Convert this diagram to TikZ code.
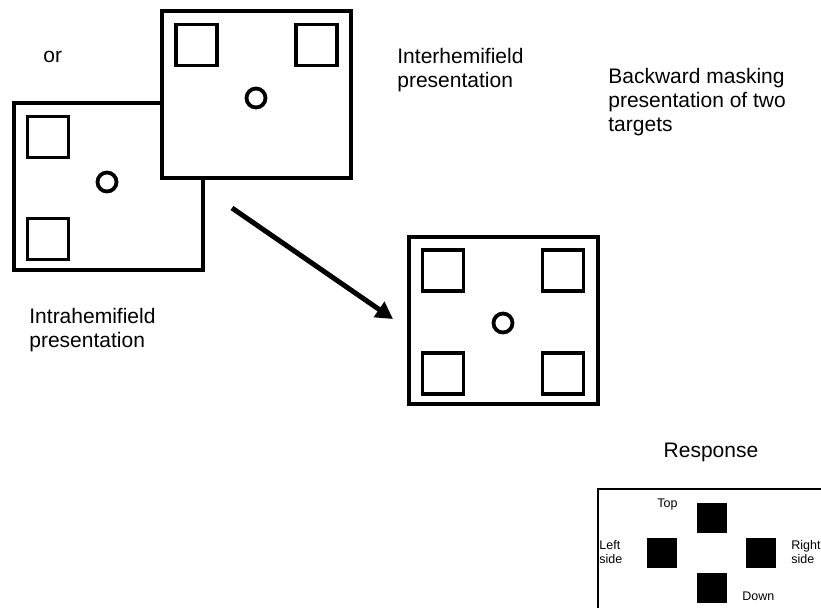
\documentclass[tikz,border=0pt]{standalone}
\usepackage{fontspec}
\setmainfont{Liberation Sans}
\usetikzlibrary{arrows.meta,positioning}
\tikzset{>={Triangle[length=8.5pt,width=9pt]}}
\tikzstyle{frame}=[rectangle,draw,line width=2pt,fill=white,
  minimum width=94.5pt,minimum height=83.5pt,inner sep=0pt]
\tikzstyle{target}=[rectangle,draw,line width=1.6pt,
  minimum size=20.5pt,inner sep=0pt]
\tikzstyle{fixdot}=[circle,draw,line width=1.9pt,minimum size=9.5pt,inner sep=0pt]
\tikzstyle{key}=[rectangle,fill=black,minimum size=15pt,inner sep=0pt]
\tikzstyle{txt}=[inner sep=0pt,anchor=base west,align=left,
  font=\fontsize{10.5}{12}\selectfont]
\tikzstyle{smalltxt}=[txt,font=\fontsize{6.25}{7}\selectfont]

\begin{document}
\begin{tikzpicture}[x=0.5pt,y=-0.5pt]
  \useasboundingbox (0,0) rectangle (821,607);
  \clip (0,0) rectangle (821,607);

  % intrahemifield display
  \path (108,186.5) node (intra) [frame] {};
  \path (48,137) node (intraT) [target] {};
  \path (48,239) node (intraB) [target] {};
  \path (107,182) node (intraF) [fixdot] {};

  % interhemifield display (lies on top)
  \path (256.5,94.5) node (inter) [frame] {};
  \path (196.5,45) node (interL) [target] {};
  \path (316.5,45) node (interR) [target] {};
  \path (256,98) node (interF) [fixdot] {};

  % mask display
  \path (503.5,320) node (mask) [frame] {};
  \path (443,270.5) node (maskTL) [target] {};
  \path (563,270.5) node (maskTR) [target] {};
  \path (443,373.5) node (maskBL) [target] {};
  \path (563,373.5) node (maskBR) [target] {};
  \path (503,323) node (maskF) [fixdot] {};

  \coordinate (arrfrom) at (232,208);
  \coordinate (arrto) at (393,319);
  \draw[->,line width=2.5pt] (arrfrom) -- (arrto);

  % labels (base = last line)
  \path (43,62) node (ortext) [txt] {or};
  \path (397,87) node (intertext) [txt] {Interhemifield\\presentation};
  \path (608,131) node (masktext) [txt] {Backward masking\\presentation of two\\targets};
  \path (29,347) node (intratext) [txt] {Intrahemifield\\presentation};

  % response panel
  \path (711,457) node (resptext) [txt,anchor=base] {Response};
  \draw[line width=1pt] (598,489) rectangle (840,630);
  \path (711.5,518) node (keyT) [key] {};
  \path (662,553) node (keyL) [key] {};
  \path (760.5,553) node (keyR) [key] {};
  \path (711.5,588) node (keyD) [key] {};
  \path (657,507) node (toptext) [smalltxt] {Top};
  \path (599,563) node (lefttext) [smalltxt] {Left\\side};
  \path (791,563) node (righttext) [smalltxt] {Right\\side};
  \path (742,600) node (downtext) [smalltxt] {Down};

\end{tikzpicture}
\end{document}
